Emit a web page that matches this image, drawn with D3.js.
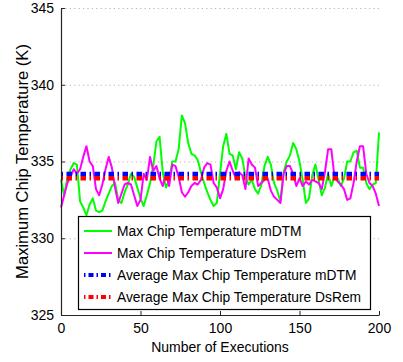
<!DOCTYPE html>
<html>
<head>
<meta charset="utf-8">
<script src="https://cdn.jsdelivr.net/npm/d3@7"></script>
<style>
  body { margin: 0; background: #fff; }
  text { font-family: "Liberation Sans", Arial, Helvetica, sans-serif; fill: #000; }
</style>
</head>
<body>
<div id="chart"></div>
<script>
'use strict'

// executions sampled every 2 runs
const executions = d3.range(0, 201, 2);

const tempMDTM = [
  333.8, 332.8, 333.9, 334.5, 334.9, 334.8, 332.4, 332.0, 331.5, 332.2,
  332.6, 331.8, 331.7, 331.8, 332.4, 332.9, 333.4, 333.6, 332.5, 332.3,
  333.0, 333.5, 334.2, 334.0, 333.3, 332.6, 332.1, 332.8, 333.6, 334.7,
  336.3, 336.6, 334.3, 333.3, 333.8, 335.0, 335.0, 335.8, 338.0, 337.5,
  336.2, 335.5, 335.4, 335.1, 334.3, 333.6, 333.0, 332.5, 332.1, 332.3,
  334.2, 336.0, 336.8, 335.5, 335.4, 334.5, 335.6, 335.2, 334.0, 333.5,
  333.8, 333.2, 332.9, 333.5, 334.7, 335.3, 334.8, 333.6, 333.1, 332.4,
  334.3, 335.0, 335.4, 336.2, 335.8, 335.0, 333.8, 332.3, 332.6, 334.1,
  334.8, 333.8, 332.8, 333.3, 334.2, 333.4, 334.0, 333.9, 333.4, 333.9,
  335.0, 335.0, 335.6, 335.7, 334.6, 334.6, 333.6, 333.2, 333.5, 333.6,
  336.9
];

const tempDsRem = [
  332.0, 332.8, 333.6, 334.0, 334.5, 334.2, 334.5, 335.3, 336.0, 335.0,
  334.7, 333.2, 332.8, 333.5, 334.5, 335.3, 334.6, 333.3, 332.3, 332.9,
  333.5, 333.6, 333.5, 332.8, 332.1, 332.5, 334.2, 333.8, 335.3, 334.4,
  334.7, 333.9, 333.4, 334.2, 333.4, 334.8, 334.7, 334.0, 333.0, 332.7,
  333.0, 333.4, 333.6, 333.5, 333.8, 334.6, 334.9, 334.8, 333.6, 333.3,
  332.6, 333.2, 334.4, 335.0, 334.4, 333.9, 334.3, 334.1, 333.2, 335.2,
  334.8, 334.6, 333.4, 333.6, 333.8, 333.9, 333.1, 332.7, 332.5, 332.3,
  334.2, 334.7, 334.7, 334.2, 333.4, 333.9, 333.4, 333.7, 333.5, 333.8,
  333.7, 333.6, 333.2, 334.3, 335.8, 335.8, 334.0, 333.7, 333.5, 333.2,
  332.5, 332.6, 333.6, 335.0, 336.0, 336.0, 334.2, 333.6, 333.4, 332.9,
  332.1
];

const avgMDTM = 334.19;
const avgDsRem = 333.91;

const xTicks = [0, 50, 100, 150, 200];
const yTicks = [325, 330, 335, 340, 345];

const seriesNames = [
  'Max Chip Temperature mDTM',
  'Max Chip Temperature DsRem',
  'Average Max Chip Temperature mDTM',
  'Average Max Chip Temperature DsRem'
];

let svg = d3.select('#chart')
  .append('svg')
  .attr('width', 403)
  .attr('height', 362);

let margin = {top: 8, right: 24, bottom: 47, left: 61},
    width = 403 - margin.left - margin.right,
    height = 362 - margin.top - margin.bottom;

let x = d3.scaleLinear().domain([0, 200]).range([0, width]),
    y = d3.scaleLinear().domain([325, 345]).range([height, 0]);

let g = svg.append('g')
  .attr('transform', 'translate(' + margin.left + ',' + margin.top + ')');

// dotted horizontal grid
g.append('g')
  .selectAll('line')
  .data(yTicks)
  .enter().append('line')
  .attr('x1', 0)
  .attr('x2', width)
  .attr('y1', d => y(d) + 0.5)
  .attr('y2', d => y(d) + 0.5)
  .attr('stroke', '#b4b4b4')
  .attr('stroke-width', 1)
  .attr('stroke-dasharray', '1.2,3.2');

let line = d3.line()
  .x((d, i) => x(executions[i]))
  .y(d => y(d));

g.append('path')
  .datum(tempMDTM)
  .attr('fill', 'none')
  .attr('stroke', '#00ff00')
  .attr('stroke-width', 2)
  .attr('stroke-linejoin', 'round')
  .attr('d', line);

g.append('path')
  .datum(tempDsRem)
  .attr('fill', 'none')
  .attr('stroke', '#ff00ff')
  .attr('stroke-width', 2)
  .attr('stroke-linejoin', 'round')
  .attr('d', line);

const dashDot = '5.5,3.5,1.5,3.5';

[[avgMDTM, '#0000ff'], [avgDsRem, '#ff0000']].forEach(function(a) {
  g.append('line')
    .attr('x1', x(0))
    .attr('x2', x(200))
    .attr('y1', y(a[0]))
    .attr('y2', y(a[0]))
    .attr('stroke', a[1])
    .attr('stroke-width', 4.3)
    .attr('stroke-dasharray', dashDot)
    .attr('stroke-dashoffset', 8.5);
});

// axes (ticks point inward, like matlab)
let xAxis = d3.axisBottom(x).tickValues(xTicks).tickSizeInner(-4).tickSizeOuter(0).tickPadding(8),
    yAxis = d3.axisLeft(y).tickValues(yTicks).tickSizeInner(-4).tickSizeOuter(0).tickPadding(7);

let gx = g.append('g')
  .attr('transform', 'translate(0,' + height + ')')
  .call(xAxis);

let gy = g.append('g')
  .call(yAxis);

[gx, gy].forEach(function(ax) {
  ax.select('.domain').attr('stroke', '#262626').attr('stroke-width', 1.2);
  ax.selectAll('.tick line').attr('stroke', '#262626');
  ax.selectAll('.tick text')
    .attr('font-size', 14)
    .attr('font-family', '"Liberation Sans", Arial, sans-serif')
    .attr('fill', '#000');
});

// axis titles
svg.append('text')
  .attr('x', margin.left + width / 2)
  .attr('y', 352)
  .attr('text-anchor', 'middle')
  .attr('font-size', 14)
  .text('Number of Executions');

svg.append('text')
  .attr('transform', 'translate(28,' + (margin.top + height / 2) + ') rotate(-90)')
  .attr('text-anchor', 'middle')
  .attr('font-size', 16.6)
  .text('Maximum Chip Temperature (K)');

// legend
let legend = svg.append('g')
  .attr('transform', 'translate(78,216)');

legend.append('rect')
  .attr('x', 0.5)
  .attr('y', 0.5)
  .attr('width', 292)
  .attr('height', 93)
  .attr('fill', '#fff')
  .attr('stroke', '#000')
  .attr('stroke-width', 1.2);

const legendStyle = [
  {color: '#00ff00', w: 2, dash: null},
  {color: '#ff00ff', w: 2, dash: null},
  {color: '#0000ff', w: 4, dash: '1.5,3,5,3'},
  {color: '#ff0000', w: 4, dash: '1.5,3,5,3'}
];

let rows = legend.selectAll('.row')
  .data(seriesNames)
  .enter().append('g')
  .attr('class', 'row')
  .attr('transform', (d, i) => 'translate(0,' + (15 + i * 22) + ')');

rows.append('line')
  .attr('x1', 6)
  .attr('x2', 34)
  .attr('y1', 0)
  .attr('y2', 0)
  .attr('stroke', (d, i) => legendStyle[i].color)
  .attr('stroke-width', (d, i) => legendStyle[i].w)
  .attr('stroke-dasharray', (d, i) => legendStyle[i].dash);

rows.append('text')
  .attr('x', 39)
  .attr('y', 5)
  .attr('font-size', 13.8)
  .text(d => d);
</script>
</body>
</html>
